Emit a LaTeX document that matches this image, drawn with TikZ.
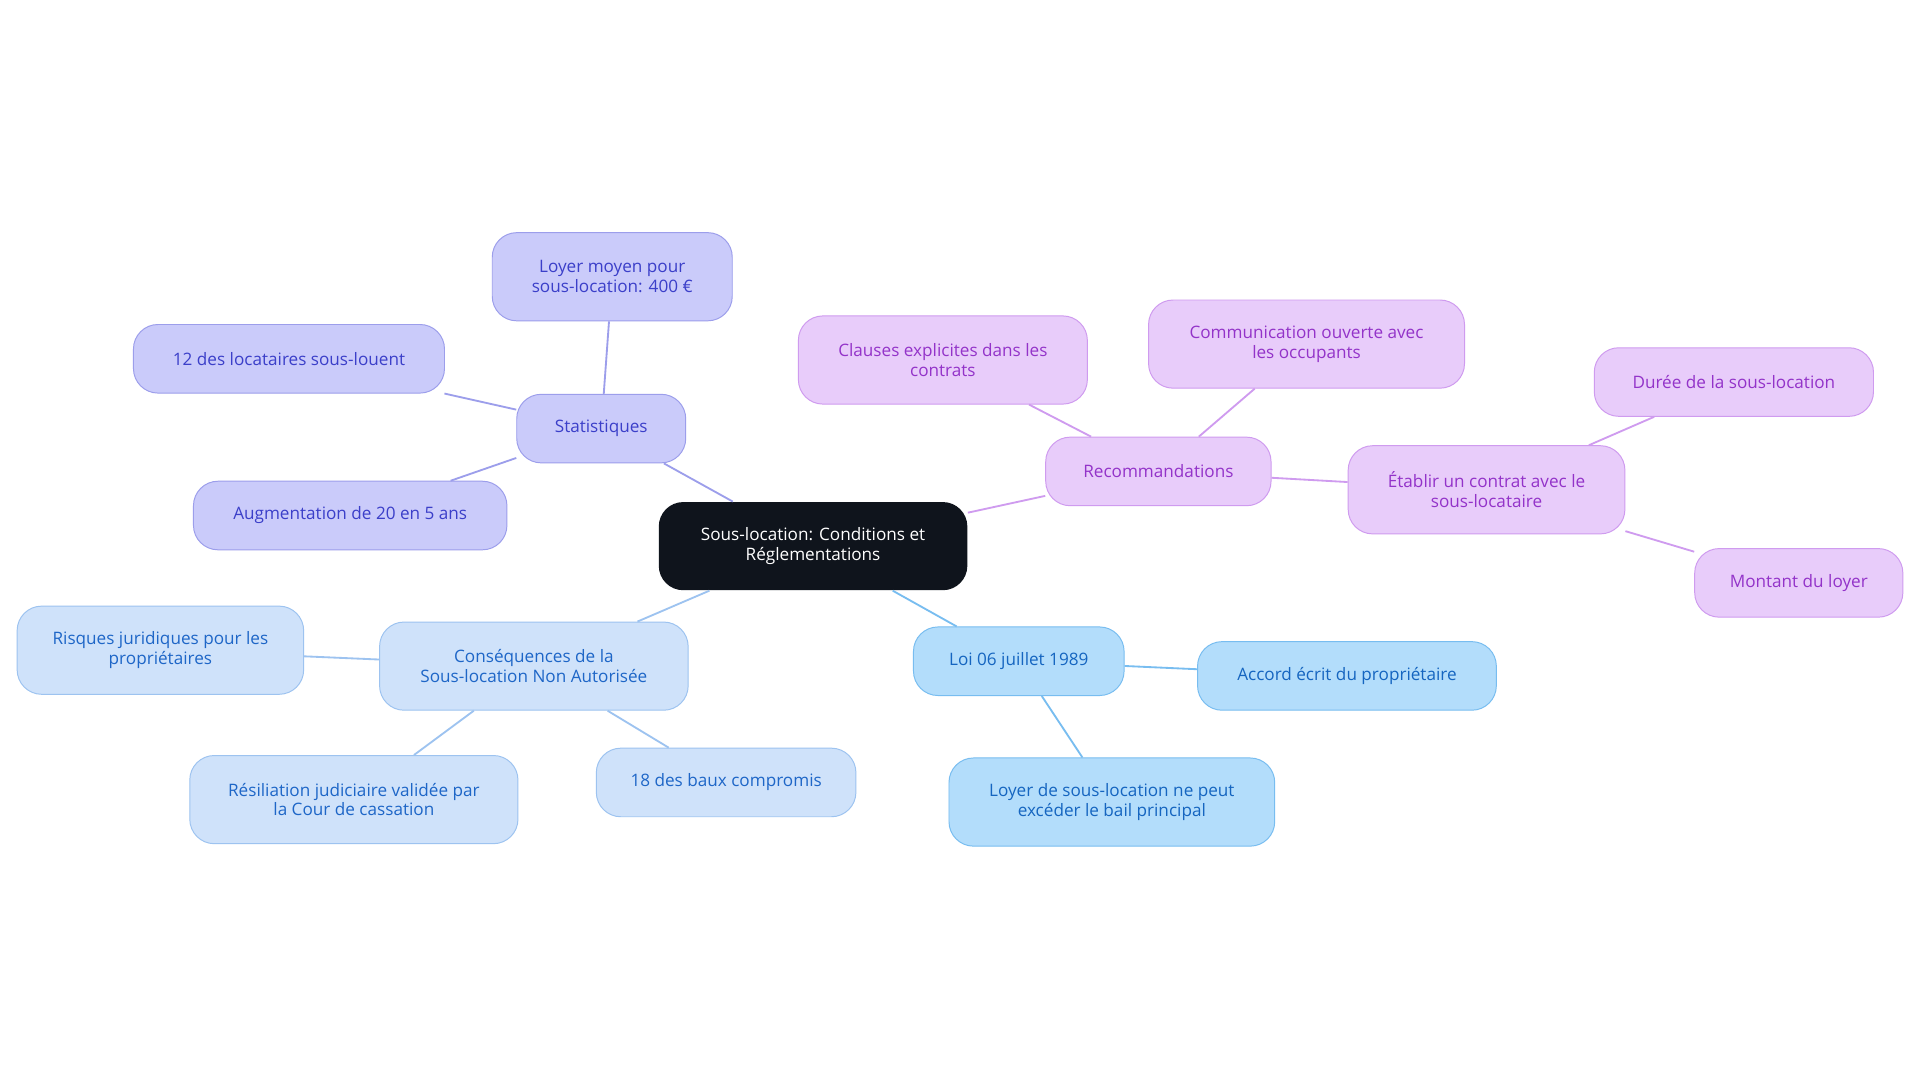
\documentclass[tikz,border=0pt]{standalone}
\usepackage{fontspec}
\setmainfont{Open Sans}
\definecolor{cdark}{HTML}{0F141C}
\definecolor{sfill}{HTML}{CACBFA}\definecolor{sline}{HTML}{9C9EEB}\definecolor{stext}{HTML}{3B3FC9}
\definecolor{kfill}{HTML}{CFE2FA}\definecolor{kline}{HTML}{9DC3F0}\definecolor{ktext}{HTML}{1E66C7}
\definecolor{lfill}{HTML}{B3DDFB}\definecolor{lline}{HTML}{78BDF0}\definecolor{ltext}{HTML}{1565C0}
\definecolor{rfill}{HTML}{E8CCFA}\definecolor{rline}{HTML}{CF9BEF}\definecolor{rtext}{HTML}{9333C9}
\begin{document}
\begin{tikzpicture}[x=1pt,y=-1pt,
 box/.style={rounded corners=20pt,align=center,inner sep=0pt,font=\fontsize{14}{16}\selectfont,line width=0.8pt},
 sb/.style={box,fill=sfill,draw=sline,text=stext},
 kb/.style={box,fill=kfill,draw=kline,text=ktext},
 lb/.style={box,fill=lfill,draw=lline,text=ltext},
 rb/.style={box,fill=rfill,draw=rline,text=rtext},
 se/.style={draw=sline,line width=1.5pt},
 ke/.style={draw=kline,line width=1.5pt},
 le/.style={draw=lline,line width=1.5pt},
 re/.style={draw=rline,line width=1.5pt}]
\useasboundingbox (0,0) rectangle (1568,884);
\fill[white] (0,0) rectangle (1568,884);
\def\bx#1#2#3#4#5#6{\node[#2,minimum width=#5pt,minimum height=#6pt] (#1) at (#3,#4)}
\bx{c}{box,fill=cdark,text=white}{664}{446}{252}{72}{Sous-location: Conditions et\\Réglementations};
\bx{s}{sb}{491}{350}{138}{56}{Statistiques};
\bx{s1}{sb}{500}{226}{196}{72}{Loyer moyen pour\\sous-location: 400 €};
\bx{s2}{sb}{236}{293}{254}{56}{12 des locataires sous-louent};
\bx{s3}{sb}{286}{421}{256}{56}{Augmentation de 20 en 5 ans};
\bx{k}{kb}{436}{544}{252}{72}{Conséquences de la\\Sous-location Non Autorisée};
\bx{k1}{kb}{131}{531}{234}{72}{Risques juridiques pour les\\propriétaires};
\bx{k2}{kb}{289}{653}{268}{72}{Résiliation judiciaire validée par\\la Cour de cassation};
\bx{k3}{kb}{593}{639}{212}{56}{18 des baux compromis};
\bx{l}{lb}{832}{540}{172}{56}{Loi 06 juillet 1989};
\bx{l1}{lb}{1100}{552}{244}{56}{Accord écrit du propriétaire};
\bx{l2}{lb}{908}{655}{266}{72}{Loyer de sous-location ne peut\\excéder le bail principal};
\bx{r}{rb}{946}{385}{184}{56}{Recommandations};
\bx{r1}{rb}{770}{294}{236}{72}{Clauses explicites dans les\\contrats};
\bx{r2}{rb}{1067}{281}{258}{72}{Communication ouverte avec\\les occupants};
\bx{r3}{rb}{1214}{400}{226}{72}{Établir un contrat avec le\\sous-locataire};
\bx{r31}{rb}{1416}{312}{228}{56}{Durée de la sous-location};
\bx{r32}{rb}{1469}{476}{170}{56}{Montant du loyer};
\begin{scope}[on background layer/.style={}]
\end{scope}
\path[se] (c) -- (s) (s) -- (s1) (s) -- (s2) (s) -- (s3);
\path[ke] (c) -- (k) (k) -- (k1) (k) -- (k2) (k) -- (k3);
\path[le] (c) -- (l) (l) -- (l1) (l) -- (l2);
\path[re] (c) -- (r) (r) -- (r1) (r) -- (r2) (r) -- (r3) (r3) -- (r31) (r3) -- (r32);
\end{tikzpicture}
\end{document}
